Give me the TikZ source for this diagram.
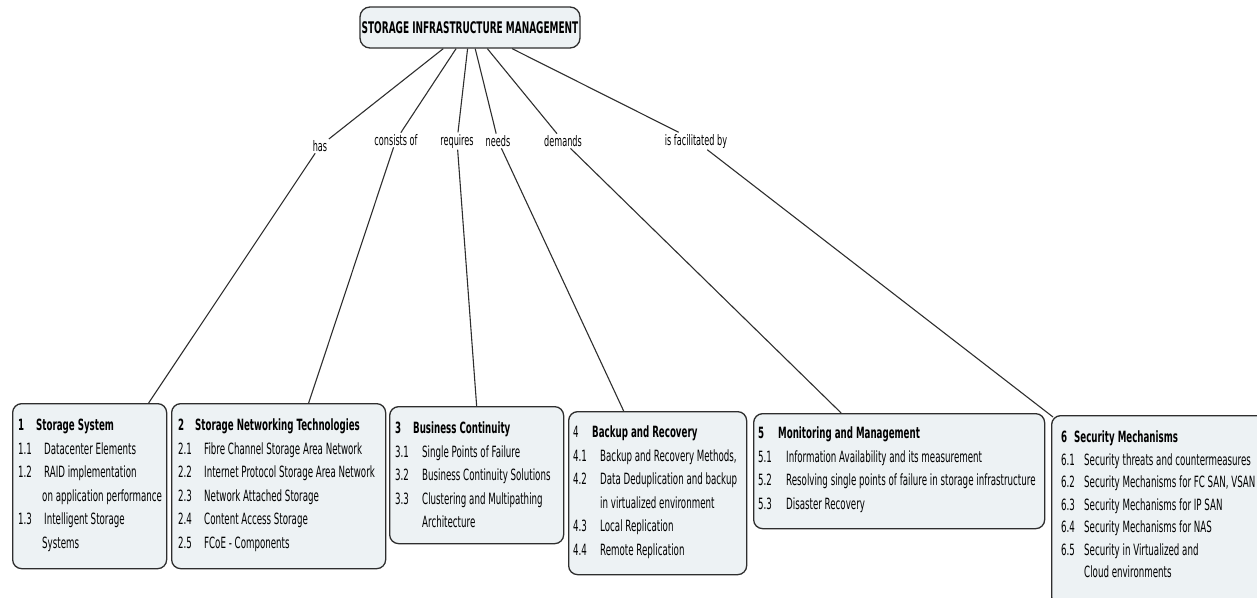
\documentclass[tikz,border=0pt]{standalone}
\usepackage{fontspec}
\setmainfont[FakeStretch=0.56]{DejaVu Sans}
\usetikzlibrary{calc}
\definecolor{boxfill}{HTML}{EDF2F4}
\definecolor{edge}{HTML}{2E2E2E}
\newcommand\myhd[3]{\makebox[#1][l]{#2}\textbf{#3}}
\newcommand\myit[3]{\makebox[#1][l]{#2}#3}
\begin{document}
\begin{tikzpicture}[x=1pt,y=-1pt,
  box/.style={draw=edge, line width=1.3pt, fill=boxfill, rounded corners=9pt, inner sep=0pt, anchor=north west},
  txt/.style={inner sep=0pt, anchor=north west, font=\fontsize{15.5}{23.5}\selectfont},
  lbl/.style={inner sep=1.5pt, font=\fontsize{14.5}{17}\selectfont},
  link/.style={draw=edge, line width=1.1pt}]
\useasboundingbox (0,0) rectangle (1257,597);
\clip (0,0) rectangle (1257,597);

\node[box, anchor=center, minimum width=220pt, minimum height=41pt, rounded corners=10pt,
      font=\bfseries\fontsize{16}{18}\selectfont] (root) at (470,27.5) {STORAGE INFRASTRUCTURE MANAGEMENT};

\node[box, minimum width=154pt, minimum height=165pt] (b1) at (12,403) {};
\node[box, minimum width=214pt, minimum height=165pt] (b2) at (171,403) {};
\node[box, minimum width=174pt, minimum height=137pt] (b3) at (389,406) {};
\node[box, minimum width=178pt, minimum height=163pt] (b4) at (568,411) {};
\node[box, minimum width=291pt, minimum height=115pt] (b5) at (753,413) {};
\node[box, minimum width=216pt, minimum height=190pt] (b6) at (1051,415) {};

\node[txt] (t1) at ([xshift=6pt,yshift=-11pt]b1.north west) {\begin{tabular}{@{}l@{}}
\myhd{18pt}{\bfseries 1}{Storage System}\\
\myit{26pt}{1.1}{Datacenter Elements}\\
\myit{26pt}{1.2}{RAID implementation}\\
\myit{24pt}{}{on application performance}\\
\myit{26pt}{1.3}{Intelligent Storage}\\
\myit{24pt}{}{Systems}
\end{tabular}};

\node[txt] (t2) at ([xshift=7pt,yshift=-11pt]b2.north west) {\begin{tabular}{@{}l@{}}
\myhd{17pt}{\bfseries 2}{Storage Networking Technologies}\\
\myit{26pt}{2.1}{Fibre Channel Storage Area Network}\\
\myit{26pt}{2.2}{Internet Protocol Storage Area Network}\\
\myit{26pt}{2.3}{Network Attached Storage}\\
\myit{26pt}{2.4}{Content Access Storage}\\
\myit{26pt}{2.5}{FCoE - Components}
\end{tabular}};

\node[txt] (t3) at ([xshift=6pt,yshift=-11pt]b3.north west) {\begin{tabular}{@{}l@{}}
\myhd{18pt}{\bfseries 3}{Business Continuity}\\
\myit{27pt}{3.1}{Single Points of Failure}\\
\myit{27pt}{3.2}{Business Continuity Solutions}\\
\myit{27pt}{3.3}{Clustering and Multipathing}\\
\myit{27pt}{}{Architecture}
\end{tabular}};

\node[txt] (t4) at ([xshift=5pt,yshift=-10pt]b4.north west) {\begin{tabular}{@{}l@{}}
\myhd{19pt}{4}{Backup and Recovery}\\
\myit{27pt}{4.1}{Backup and Recovery Methods,}\\
\myit{27pt}{4.2}{Data Deduplication and backup}\\
\myit{27pt}{}{in virtualized environment}\\
\myit{27pt}{4.3}{Local Replication}\\
\myit{27pt}{4.4}{Remote Replication}
\end{tabular}};

\node[txt] (t5) at ([xshift=5pt,yshift=-9pt]b5.north west) {\begin{tabular}{@{}l@{}}
\myhd{20pt}{\bfseries 5}{Monitoring and Management}\\
\myit{28pt}{5.1}{Information Availability and its measurement}\\
\myit{28pt}{5.2}{Resolving single points of failure in storage infrastructure}\\
\myit{28pt}{5.3}{Disaster Recovery}
\end{tabular}};

\node[txt, font=\fontsize{15.5}{22.5}\selectfont] (t6) at ([xshift=10pt,yshift=-12pt]b6.north west) {\begin{tabular}{@{}l@{}}
\myhd{13pt}{\bfseries 6}{Security Mechanisms}\\
\myit{23pt}{6.1}{Security threats and countermeasures}\\
\myit{23pt}{6.2}{Security Mechanisms for FC SAN, VSAN}\\
\myit{23pt}{6.3}{Security Mechanisms for IP SAN}\\
\myit{23pt}{6.4}{Security Mechanisms for NAS}\\
\myit{23pt}{6.5}{Security in Virtualized and}\\
\myit{23pt}{}{Cloud environments}
\end{tabular}};

\node[lbl] (has) at (320,146) {has};
\node[lbl] (cons) at (396,140) {consists of};
\node[lbl] (req) at (457,141) {requires};
\node[lbl] (need) at (498,141) {needs};
\node[lbl] (dem) at (563,141) {demands};
\node[lbl] (fac) at (696,141) {is facilitated by};

\draw[link] (root) -- (has);
\draw[link] (root) -- (cons);
\draw[link] (root) -- (req);
\draw[link] (root) -- (need);
\draw[link] (root) -- (dem);
\draw[link] (root) -- (fac);

\draw[link] (has) -- ([xshift=59pt]b1.north);
\draw[link] (cons) -- ([xshift=30pt]b2.north);
\draw[link] (req) -- (b3.north);
\draw[link] (need) -- ([xshift=-34pt]b4.north);
\draw[link] (dem) -- ([xshift=-58pt]b5.north);
\draw[link] (fac) -- ([xshift=2pt,yshift=-2pt]b6.north west);
\end{tikzpicture}
\end{document}
